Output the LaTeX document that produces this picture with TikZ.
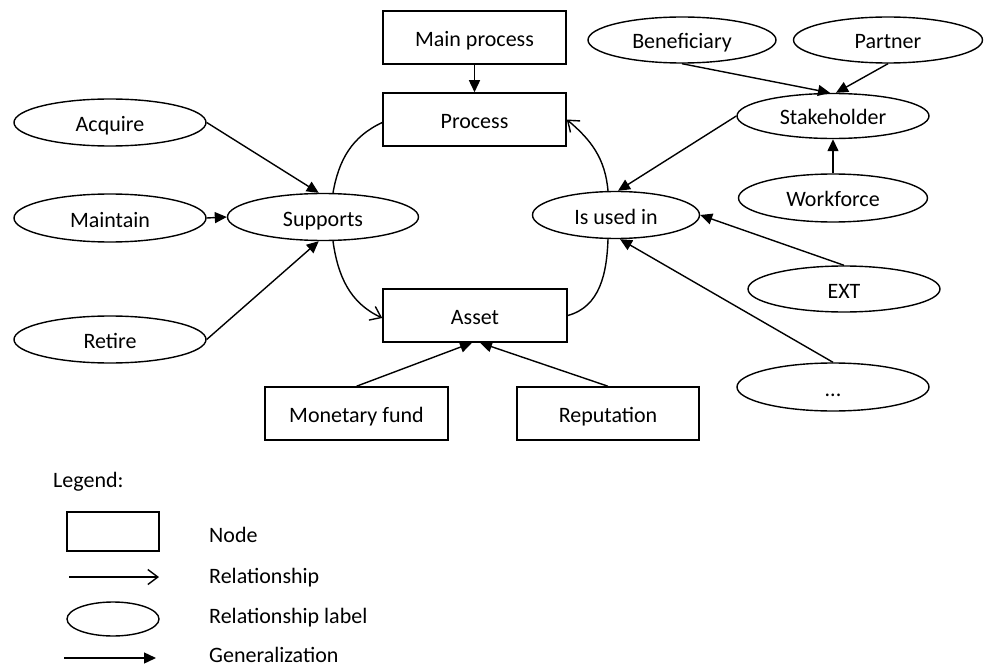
\documentclass[tikz,border=0pt]{standalone}
\usepackage{fontspec}
\setmainfont{Carlito}
\usetikzlibrary{shapes.geometric,arrows.meta,calc}
\begin{document}
\begin{tikzpicture}[x=1pt,y=1pt,
  every node/.style={font=\fontsize{22}{26}\selectfont, inner sep=0pt, text height=18pt, text depth=0pt},
  box/.style={draw, line width=1.5pt, minimum width=183pt, minimum height=53pt},
  oval/.style={draw, ellipse, line width=1.4pt, minimum width=192pt, minimum height=47pt},
  gen/.style={line width=1.4pt, -{Triangle[length=12pt,width=11pt]}},
  rel/.style={line width=1.4pt, -{Straight Barb[length=10pt,width=15pt]}},
  plain/.style={line width=1.4pt},
  legtext/.style={anchor=west}]
\useasboundingbox (0,0) rectangle (986,-666);
% rectangles
\node[box] (mainp) at (474.5,-37.5) {Main process};
\node[box] (proc) at (474.5,-119.5) {Process};
\node[box, minimum width=184pt] (asset) at (475,-315.5) {Asset};
\node[box] (money) at (356.5,-413.5) {Monetary fund};
\node[box, minimum width=182pt] (rep) at (608,-413.5) {Reputation};
% ellipses
\node[oval] (acq) at (110,-122.5) {Acquire};
\node[oval, minimum height=48pt] (maint) at (110,-218) {Maintain};
\node[oval] (ret) at (110,-339.5) {Retire};
\node[oval, minimum width=191pt] (sup) at (323,-217) {Supports};
\node[oval, minimum width=167pt] (used) at (616,-215) {Is used in};
\node[oval, minimum height=45pt] (stake) at (833,-116) {Stakeholder};
\node[oval, minimum width=188pt, minimum height=46pt] (benef) at (682,-40) {Beneficiary};
\node[oval, minimum width=189pt, minimum height=46pt] (partner) at (888,-40) {Partner};
\node[oval, minimum width=189pt, minimum height=48pt] (work) at (833,-198) {Workforce};
\node[oval, minimum height=46pt] (ext) at (844,-289) {EXT};
\node[oval, minimum height=48pt] (dots) at (833,-387) {...};
% generalization arrows
\draw[gen] (mainp.south) -- (proc.north);
\draw[gen] (acq.east) -- (sup.100);
\draw[gen] (maint.east) -- (sup.west);
\draw[gen] (ret.east) -- (sup.260);
\draw[gen] (benef.south) -- ($(stake.north)+(-3,0)$);
\draw[gen] (partner.south) -- ($(stake.north)+(3,0)$);
\draw[gen] (work.north) -- (stake.south);
\draw[gen] (stake.west) -- ($(used.north)+(2,0)$);
\draw[gen] (ext.north) -- (used.east);
\draw[gen] (dots.north) -- ($(used.south)+(4,0)$);
\draw[gen] (money.north) -- ($(asset.south)+(-3,0)$);
\draw[gen] (rep.north) -- ($(asset.south)+(5,0)$);
% relationship curves
\draw[plain] ($(sup.north)+(10,0)$) to[out=80,in=205] ($(proc.west)+(0,-3)$);
\draw[rel] ($(sup.south)+(10,0)$) to[out=-82,in=155] ($(asset.west)+(0,-2.5)$);
\draw[plain] (asset.east) to[out=15,in=-92] ($(used.south)+(-8,0)$);
\draw[rel] ($(used.north)+(-8,0)$) to[out=95,in=-40] (proc.east);
% legend
\node[anchor=west] (legend) at (53,-478) {Legend:};
\node[draw, line width=1.5pt, minimum width=92pt, minimum height=39pt] (legbox) at (113,-531.5) {};
\node[legtext] (tnode) at (209,-533) {Node};
\coordinate (r1) at (69,-577);
\coordinate (r2) at (159,-577);
\draw[rel] (r1) -- (r2);
\node[legtext] (trel) at (209,-574) {Relationship};
\node[draw, ellipse, line width=1.4pt, minimum width=92pt, minimum height=34pt] (legell) at (113,-619) {};
\node[legtext] (tlab) at (209,-614) {Relationship label};
\coordinate (g1) at (64,-658);
\coordinate (g2) at (156,-658);
\draw[gen] (g1) -- (g2);
\node[legtext] (tgen) at (209,-653) {Generalization};
\end{tikzpicture}
\end{document}
